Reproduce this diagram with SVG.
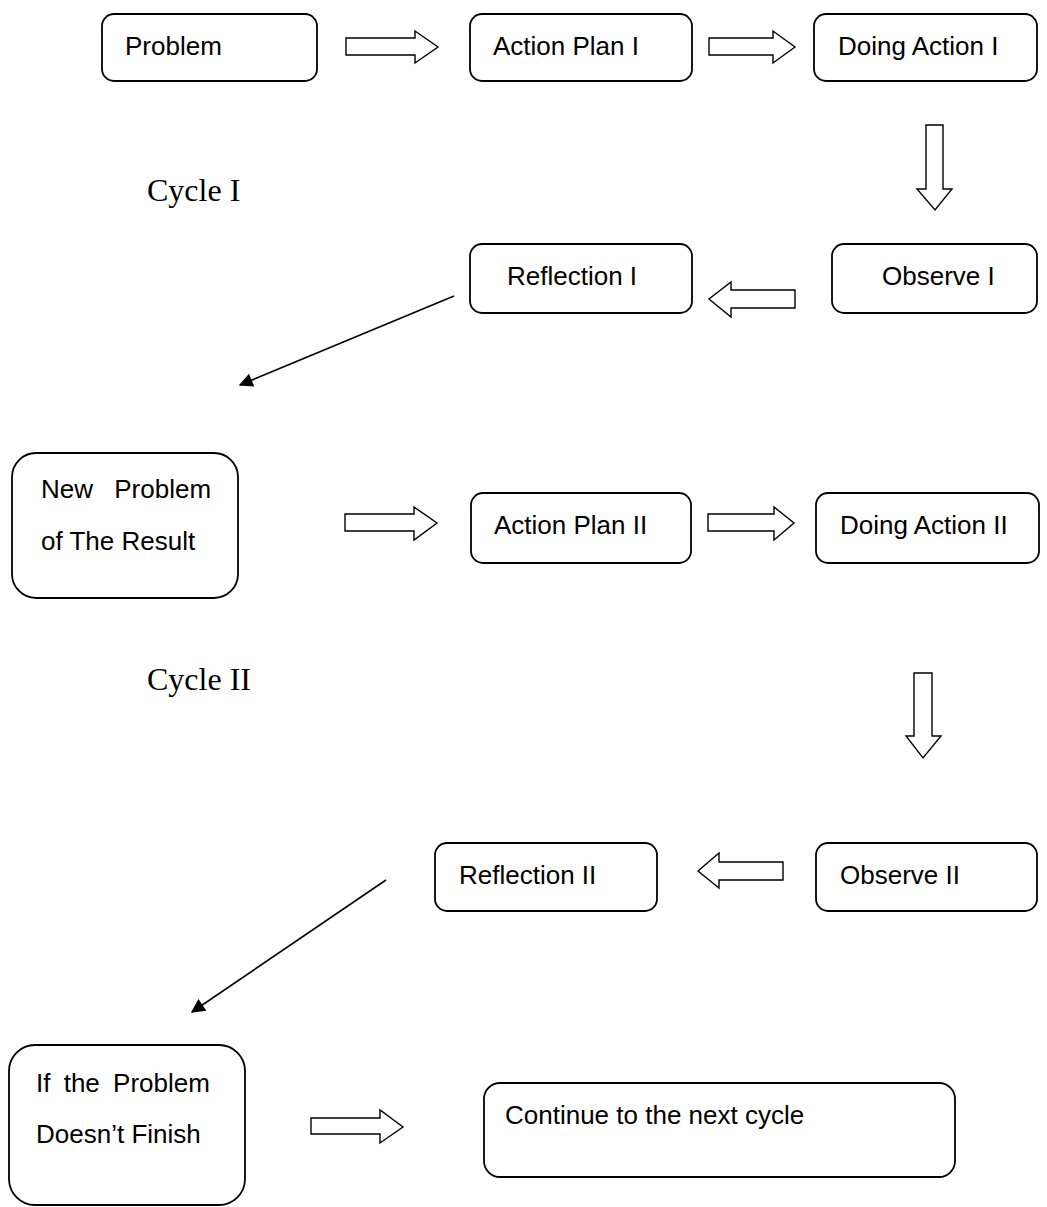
<svg xmlns="http://www.w3.org/2000/svg" width="1047" height="1207" viewBox="0 0 1047 1207">
<defs>
<style>
.box{fill:#fff;stroke:#000;stroke-width:1.8}
.blk{fill:#fff;stroke:#000;stroke-width:1.4;stroke-linejoin:miter}
.t{font-family:"Liberation Sans",Arial,sans-serif;font-size:26px;fill:#000}
.c{font-family:"Liberation Serif","Times New Roman",serif;font-size:32px;fill:#000}
.ln{stroke:#000;stroke-width:1.6;fill:none}
</style>
<marker id="ah" viewBox="0 0 10 10" refX="9" refY="5" markerWidth="16" markerHeight="14" markerUnits="userSpaceOnUse" orient="auto">
<path d="M0,0 L10,5 L0,10 z" fill="#000"/>
</marker>
</defs>
<rect width="1047" height="1207" fill="#fff"/>
<g id="problem"><rect class="box" x="102" y="14" width="215" height="67" rx="12"/><text class="t" x="125" y="55">Problem</text></g>
<g id="action-plan-1"><rect class="box" x="470" y="14" width="222" height="67" rx="12"/><text class="t" x="493" y="55">Action Plan I</text></g>
<g id="doing-action-1"><rect class="box" x="814" y="14" width="223" height="67" rx="12"/><text class="t" x="838" y="55">Doing Action I</text></g>
<g id="cycle-1"><text class="c" x="147" y="201">Cycle I</text></g>
<g id="reflection-1"><rect class="box" x="470" y="244" width="222" height="69" rx="12"/><text class="t" x="507" y="285">Reflection I</text></g>
<g id="observe-1"><rect class="box" x="832" y="244" width="205" height="69" rx="12"/><text class="t" x="882" y="285">Observe I</text></g>
<g id="new-problem"><rect class="box" x="12" y="453" width="226" height="145" rx="24"/><text class="t" x="41" y="498" word-spacing="14">New Problem</text><text class="t" x="41" y="550">of The Result</text></g>
<g id="action-plan-2"><rect class="box" x="471" y="493" width="220" height="70" rx="12"/><text class="t" x="494" y="534">Action Plan II</text></g>
<g id="doing-action-2"><rect class="box" x="816" y="493" width="223" height="70" rx="12"/><text class="t" x="840" y="534">Doing Action II</text></g>
<g id="cycle-2"><text class="c" x="147" y="690">Cycle II</text></g>
<g id="reflection-2"><rect class="box" x="435" y="843" width="222" height="68" rx="12"/><text class="t" x="459" y="884">Reflection II</text></g>
<g id="observe-2"><rect class="box" x="816" y="843" width="221" height="68" rx="12"/><text class="t" x="840" y="884">Observe II</text></g>
<g id="if-problem"><rect class="box" x="9" y="1045" width="236" height="160" rx="26"/><text class="t" x="36" y="1092" word-spacing="6">If the Problem</text><text class="t" x="36" y="1143">Doesn’t Finish</text></g>
<g id="continue"><rect class="box" x="484" y="1083" width="471" height="94" rx="16"/><text class="t" x="505" y="1124">Continue to the next cycle</text></g>
<g id="connectors">
<polygon class="blk" points="346,38 415,38 415,31 438,47 415,63 415,55 346,55"/>
<polygon class="blk" points="709,38 773,38 773,31 795,47 773,63 773,55 709,55"/>
<polygon class="blk" points="926,125 943,125 943,189 952,189 935,210 917,189 926,189"/>
<polygon class="blk" points="795,290 731,290 731,282 709,299 731,317 731,308 795,308"/>
<line class="ln" x1="454" y1="296" x2="240" y2="385" marker-end="url(#ah)"/>
<polygon class="blk" points="345,514 414,514 414,507 437,523 414,540 414,531 345,531"/>
<polygon class="blk" points="708,514 774,514 774,507 794,523 774,540 774,531 708,531"/>
<polygon class="blk" points="914,673 932,673 932,736 941,736 923,758 906,736 914,736"/>
<polygon class="blk" points="783,862 719,862 719,853 698,871 719,888 719,880 783,880"/>
<line class="ln" x1="386" y1="880" x2="192" y2="1012" marker-end="url(#ah)"/>
<polygon class="blk" points="311,1118 380,1118 380,1110 403,1127 380,1143 380,1134 311,1134"/>
</g>
</svg>
